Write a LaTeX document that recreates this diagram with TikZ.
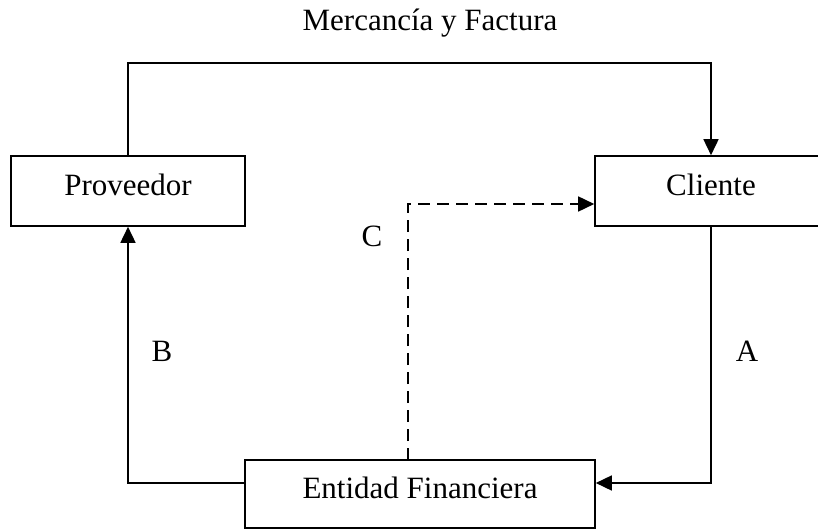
\documentclass[tikz,border=0pt]{standalone}
\usepackage{fontspec}
\setmainfont{Liberation Serif}
\usetikzlibrary{arrows.meta}
\begin{document}
\begin{tikzpicture}[x=1pt,y=-1pt,
  box/.style={draw,line width=1.6pt,rectangle,inner sep=0pt,font=\fontsize{31}{37}\selectfont,text height=20pt,text depth=11pt},
  lbl/.style={font=\fontsize{31}{37}\selectfont,inner sep=0pt},
  conn/.style={line width=1.6pt},
  tipend/.style={-{Triangle[length=16pt,width=15pt]}},
  dashline/.style={line width=1.6pt,dash pattern=on 12pt off 7pt}]
\useasboundingbox (0,0) rectangle (818,529);
\clip (0,0) rectangle (818,529);
\node[box,minimum width=234pt,minimum height=70pt] (prov) at (128,191) {Proveedor};
\node[box,minimum width=232pt,minimum height=70pt] (cli) at (711,191) {Cliente};
\node[box,minimum width=350pt,minimum height=68pt] (ent) at (420,494) {Entidad Financiera};
\node[lbl] (title) at (430,23) {Mercancía y Factura};
\node[lbl] (la) at (747,351) {A};
\node[lbl] (lb) at (162,351) {B};
\node[lbl] (lc) at (372,236) {C};
\coordinate (t1) at (128,63);
\coordinate (t2) at (711,63);
\coordinate (a1) at (711,483);
\coordinate (b1) at (128,483);
\coordinate (c0) at (408,460);
\coordinate (c1) at (408,204);
\draw[conn,tipend] (prov.north) -- (t1) -- (t2) -- (cli.north);
\draw[conn,tipend] (cli.south) -- (a1) -- (a1 -| ent.east);
\draw[conn,tipend] (b1 -| ent.west) -- (b1) -- (prov.south);
\draw[dashline,tipend] (c0) -- (c1) -- (c1 -| cli.west);
\end{tikzpicture}
\end{document}
